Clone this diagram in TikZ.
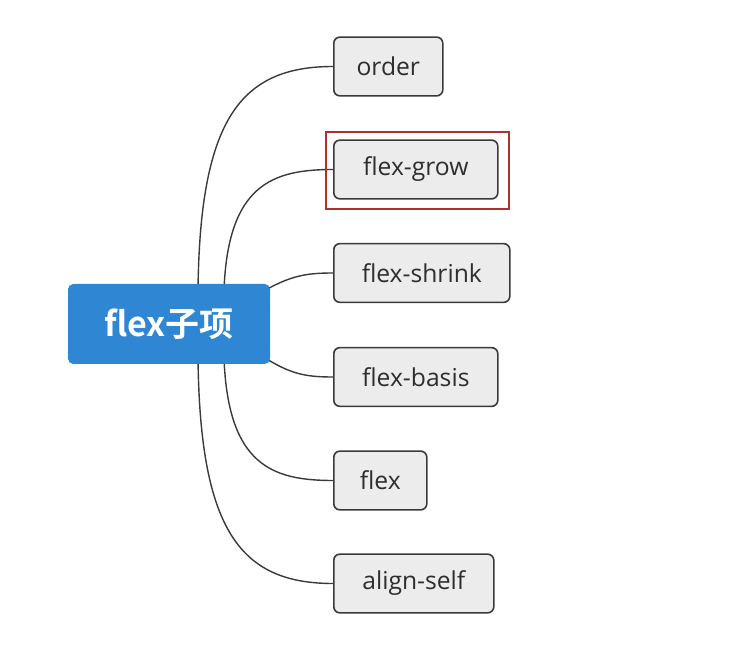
\documentclass[tikz,border=0pt]{standalone}
\usepackage{fontspec}
\setmainfont{Open Sans}
\newfontfamily\cjkbold[BoldFont={Noto Sans CJK SC Bold}]{Noto Sans CJK SC}
\usetikzlibrary{calc}
\definecolor{rootblue}{HTML}{2F87D4}
\definecolor{childfill}{HTML}{EDECEC}
\definecolor{childline}{HTML}{3A3A3A}
\definecolor{hilite}{HTML}{B0302E}
\begin{document}
\begin{tikzpicture}[x=0.75pt,y=-0.75pt,
  rootbox/.style={fill=rootblue,rounded corners=4pt,inner sep=0pt,minimum width=151.5pt,minimum height=60pt,text=white,font=\cjkbold\bfseries\fontsize{25.5}{30}\selectfont},
  childbox/.style={draw=childline,fill=childfill,line width=1.2pt,rounded corners=4.5pt,inner sep=0pt,minimum height=44pt,font=\fontsize{18.5}{22}\selectfont,text=black!82},
  link/.style={draw=childline,line width=1.05pt},
  markbox/.style={draw=hilite,line width=1.5pt}]
\useasboundingbox (0,0) rectangle (736,648);
\fill[white] (0,0) rectangle (736,648);
\coordinate (a1) at (198,290);
\coordinate (a2) at (224,290);
\coordinate (a3) at (262,292);
\coordinate (a4) at (262,356);
\coordinate (a5) at (224,358);
\coordinate (a6) at (198,358);
\node[childbox,minimum width=81.75pt,anchor=west] (order) at (333,66.5) {order};
\node[childbox,minimum width=123pt,anchor=west] (grow) at (333,169.5) {flex-grow};
\node[childbox,minimum width=132pt,anchor=west] (shrink) at (333,273) {flex-shrink};
\node[childbox,minimum width=123pt,anchor=west] (basis) at (333,377) {flex-basis};
\node[childbox,minimum width=69.75pt,anchor=west] (flex) at (333,480.5) {flex};
\node[childbox,minimum width=120pt,anchor=west] (align) at (333,583.5) {align-self};
\draw[link] (a1) .. controls (200,120) and (240,66.5) .. (order.west);
\draw[link] (a2) .. controls (228,185) and (272,169.5) .. (grow.west);
\draw[link] (a3) .. controls (290,276) and (305,273) .. (shrink.west);
\draw[link] (a4) .. controls (290,374) and (305,377) .. (basis.west);
\draw[link] (a5) .. controls (228,465) and (272,480.5) .. (flex.west);
\draw[link] (a6) .. controls (200,530) and (240,583.5) .. (align.west);
\node[rootbox] (root) at (169,324) {flex子项};
\node[markbox,inner sep=0pt,minimum width=137.25pt,minimum height=57.75pt,anchor=north west] (mark) at (325,131) {};
\end{tikzpicture}
\end{document}
